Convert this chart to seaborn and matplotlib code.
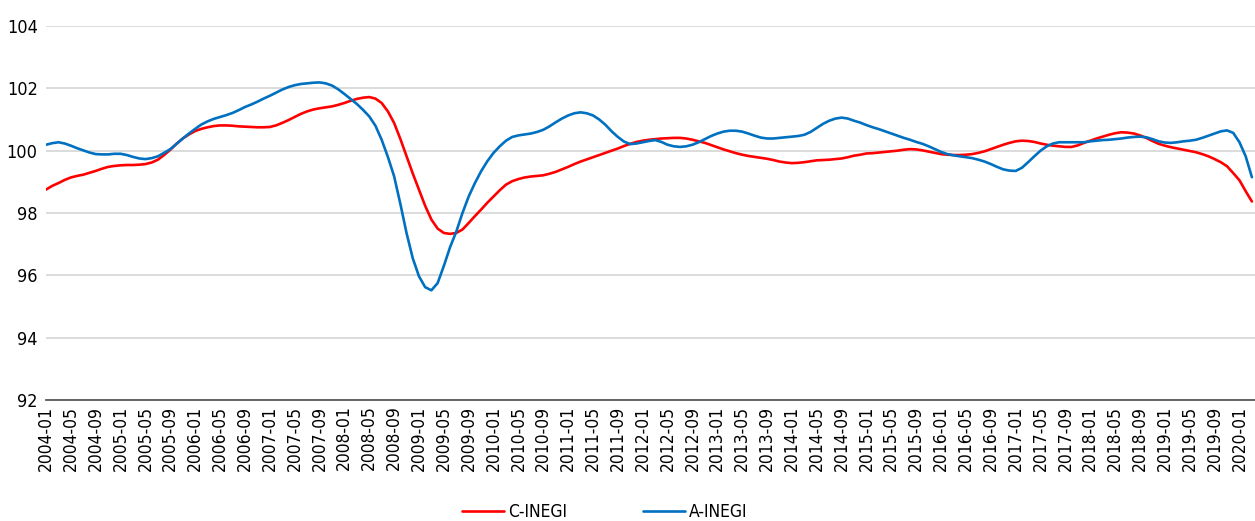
import pandas as pd
import matplotlib.pyplot as plt
import seaborn as sns

# monthly index values, 2004-01 .. 2020-03
c_inegi = [
    98.75, 98.87, 98.96, 99.06, 99.14, 99.19, 99.23, 99.29, 99.35, 99.42, 99.48, 99.51,
    99.53, 99.54, 99.54, 99.55, 99.57, 99.62, 99.71, 99.86, 100.03, 100.22, 100.39, 100.52,
    100.63, 100.70, 100.75, 100.79, 100.81, 100.81, 100.80, 100.78, 100.77, 100.76, 100.75, 100.75,
    100.76, 100.81, 100.89, 100.98, 101.08, 101.18, 101.26, 101.32, 101.36, 101.39, 101.42, 101.47,
    101.53, 101.60, 101.66, 101.70, 101.72, 101.67, 101.53, 101.26, 100.89, 100.38, 99.82, 99.27,
    98.75, 98.23, 97.79, 97.50, 97.36, 97.33, 97.36, 97.47, 97.68, 97.90, 98.11, 98.33,
    98.53, 98.73, 98.91, 99.02, 99.09, 99.14, 99.17, 99.19, 99.21, 99.26, 99.32, 99.40,
    99.48, 99.57, 99.65, 99.72, 99.79, 99.86, 99.93, 100.00, 100.07, 100.15, 100.22, 100.28,
    100.32, 100.35, 100.37, 100.39, 100.40, 100.41, 100.41, 100.39, 100.35, 100.30, 100.25, 100.18,
    100.11, 100.04, 99.98, 99.92, 99.87, 99.83, 99.80, 99.77, 99.74, 99.70, 99.65, 99.62,
    99.60, 99.61, 99.63, 99.66, 99.69, 99.70, 99.71, 99.73, 99.75, 99.79, 99.84, 99.87,
    99.91, 99.92, 99.94, 99.96, 99.98, 100.00, 100.03, 100.05, 100.04, 100.01, 99.97, 99.93,
    99.89, 99.87, 99.86, 99.86, 99.87, 99.89, 99.93, 99.98, 100.05, 100.12, 100.19, 100.25,
    100.30, 100.32, 100.31, 100.28, 100.23, 100.19, 100.16, 100.14, 100.12, 100.12, 100.17, 100.25,
    100.32, 100.39, 100.45, 100.51, 100.56, 100.59, 100.58, 100.55, 100.49, 100.41, 100.31, 100.22,
    100.16, 100.11, 100.07, 100.03, 99.99, 99.95, 99.89, 99.82, 99.73, 99.63, 99.50, 99.28,
    99.05, 98.70, 98.37,
]

a_inegi = [
    100.19, 100.24, 100.27, 100.23, 100.16, 100.08, 100.01, 99.94, 99.89, 99.88, 99.88, 99.90,
    99.90, 99.86, 99.80, 99.75, 99.73, 99.76, 99.82, 99.93, 100.05, 100.22, 100.39, 100.55,
    100.70, 100.84, 100.94, 101.02, 101.08, 101.14, 101.21, 101.30, 101.40, 101.48, 101.57, 101.67,
    101.76, 101.86, 101.96, 102.04, 102.10, 102.14, 102.16, 102.18, 102.19, 102.16, 102.09, 101.97,
    101.82, 101.66, 101.50, 101.31, 101.10, 100.80, 100.35, 99.80, 99.18, 98.30, 97.36, 96.55,
    95.97, 95.62, 95.52, 95.75, 96.30, 96.90, 97.40, 98.00, 98.53, 98.96, 99.34, 99.66,
    99.93, 100.14, 100.32, 100.44, 100.49, 100.52, 100.55, 100.60, 100.67, 100.78, 100.91, 101.03,
    101.13, 101.20, 101.23, 101.20, 101.13, 101.00, 100.83, 100.62, 100.44, 100.29, 100.21, 100.23,
    100.27, 100.31, 100.34, 100.28, 100.19, 100.14, 100.12, 100.14, 100.19, 100.27, 100.37, 100.47,
    100.55, 100.61, 100.64, 100.64, 100.61, 100.55, 100.48, 100.42, 100.39, 100.39, 100.41, 100.43,
    100.45, 100.47, 100.51, 100.60, 100.73, 100.86, 100.96, 101.03, 101.06, 101.03, 100.96, 100.90,
    100.82, 100.75, 100.69, 100.62, 100.55, 100.48, 100.41, 100.35, 100.28, 100.22, 100.14, 100.05,
    99.96, 99.89, 99.85, 99.82, 99.79, 99.76, 99.71, 99.65, 99.57, 99.48, 99.40, 99.36,
    99.35, 99.45, 99.63, 99.82, 100.00, 100.14, 100.23, 100.27, 100.27, 100.27, 100.27, 100.27,
    100.30, 100.32, 100.34, 100.35, 100.37, 100.39, 100.42, 100.44, 100.45, 100.43, 100.37, 100.30,
    100.26, 100.25, 100.27, 100.30, 100.32, 100.35, 100.41, 100.48, 100.55, 100.62, 100.65, 100.57,
    100.27, 99.82, 99.15,
]

months = pd.date_range('2004-01-01', periods=len(c_inegi), freq='MS').strftime('%Y-%m').tolist()
tick_labels = months[::4]

df = pd.DataFrame({'month': months, 'idx': range(len(months)),
                   'C-INEGI': c_inegi, 'A-INEGI': a_inegi})
long_df = df.melt(id_vars=['month', 'idx'], var_name='serie', value_name='valor')

sns.set_style('white')
plt.rcParams['font.family'] = ['DejaVu Sans']
plt.rcParams['font.stretch'] = 'condensed'

fig = plt.figure(figsize=(12.55, 5.21), dpi=100)
ax = fig.add_axes([46 / 1255, 1 - 400 / 521, 1 - 46 / 1255, (400 - 26) / 521])

sns.lineplot(data=long_df, x='idx', y='valor', hue='serie',
             palette={'C-INEGI': '#FF0000', 'A-INEGI': '#0070C0'},
             linewidth=1.9, ax=ax)

ax.set_ylim(92, 104)
ax.set_yticks(range(92, 105, 2))
ax.set_xlim(0, len(months) - 0.5)
ax.set_xticks(range(0, len(months), 4))
ax.set_xticklabels(tick_labels, rotation=90)
ax.set_xlabel('')
ax.set_ylabel('')
ax.tick_params(axis='both', labelsize=12.5, length=0, colors='#000000')
ax.tick_params(axis='x', pad=4)
ax.tick_params(axis='y', labelsize=13, pad=6)

ax.grid(axis='y', color='#d9d9d9', linewidth=1.3)
ax.grid(axis='x', visible=False)
for side in ['left', 'right', 'top']:
    ax.spines[side].set_visible(False)
ax.spines['bottom'].set_color('#595959')
ax.spines['bottom'].set_linewidth(1.3)

sns.move_legend(ax, 'center', bbox_to_anchor=(0.482, 0.017), bbox_transform=fig.transFigure,
                ncol=2, frameon=False, title=None, fontsize=12.5,
                handlelength=2.4, columnspacing=4.4, handletextpad=0.25,
                labelcolor='#000000')

plt.savefig('out.png', dpi=100)
